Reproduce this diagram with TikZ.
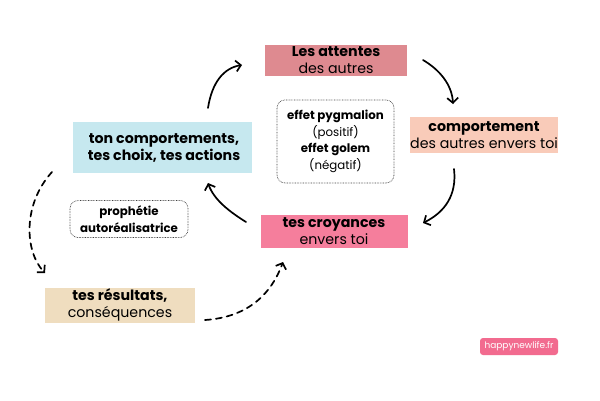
\documentclass[tikz,border=0pt]{standalone}
\usepackage{fontspec}
\setmainfont{Poppins}
\usetikzlibrary{arrows.meta}
\definecolor{rose}{HTML}{DE8A90}
\definecolor{peach}{HTML}{F9CBB9}
\definecolor{hotpink}{HTML}{F57E9C}
\definecolor{skyb}{HTML}{C6E8EF}
\definecolor{beige}{HTML}{EFDDBF}
\definecolor{logopink}{HTML}{F26B8F}
\tikzset{
  brush/.style={inner sep=0pt, align=center, font=\fontsize{14.2}{17}\selectfont},
  note/.style={draw=black!75, line width=0.7pt, dash pattern=on 0.7pt off 0.9pt, rounded corners=8pt, align=center, inner sep=0pt, font=\fontsize{11.8}{16.5}\selectfont},
  flow/.style={line width=1.7pt, line cap=round, -{Straight Barb[length=5pt,width=11pt,line width=1.7pt]}},
  dflow/.style={flow, dashed, dash pattern=on 6pt off 5pt}
}
\begin{document}
\begin{tikzpicture}[x=1pt,y=-1pt]
\useasboundingbox (0,0) rectangle (600,400);
\fill[white] (0,0) rectangle (600,400);
% brush boxes
\node[brush, fill=rose, minimum width=142pt, minimum height=31pt] (att) at (336,60) {\textbf{Les attentes}\\des autres};
\node[brush, fill=peach, minimum width=145pt, minimum height=36pt] (comp) at (484,135) {\textbf{comportement}\\des autres envers toi};
\node[brush, fill=hotpink, minimum width=147pt, minimum height=33pt] (croy) at (334,231) {\textbf{tes croyances}\\envers toi};
\node[brush, fill=skyb, minimum width=179pt, minimum height=51pt] (ton) at (162,147) {};
\node[brush, font=\fontsize{14.2}{17}\selectfont\bfseries] (tontext) at (164,147.5) {ton comportements,\\tes choix, tes actions};
\node[brush, fill=beige, minimum width=150pt, minimum height=35pt] (res) at (120,305) {\textbf{tes résultats,}\\conséquences};
% dotted notes
\node[note, minimum width=117pt, minimum height=83pt] (pyg) at (335.5,141.5) {\textbf{effet pygmalion}\\(positif)\\\textbf{effet golem}\\(négatif)};
\node[note, minimum width=118pt, minimum height=37pt] (pro) at (129,219) {\textbf{prophétie}\\\textbf{autoréalisatrice}};
% logo
\node[fill=logopink, rounded corners=3pt, minimum width=78pt, minimum height=17pt, inner sep=0pt, text=white, font=\fontsize{9}{10}\selectfont] (logo) at (519,346.5) {happynewlife.fr};
% connector coordinates
\coordinate (a1s) at (208,108); \coordinate (a1e) at (242,65);
\coordinate (a2s) at (423,60);  \coordinate (a2e) at (453,104);
\coordinate (a3s) at (454,169); \coordinate (a3e) at (423,223);
\coordinate (a4s) at (246,222); \coordinate (a4e) at (208,183);
\coordinate (d1s) at (52,172);  \coordinate (d1e) at (45,273);
\coordinate (d2s) at (205,320); \coordinate (d2e) at (283,262);
\draw[flow] (a1s) .. controls (212,82) and (224,68) .. (a1e);
\draw[flow] (a2s) .. controls (440,70) and (452,85) .. (a2e);
\draw[flow] (a3s) .. controls (457,195) and (445,212) .. (a3e);
\draw[flow] (a4s) .. controls (230,212) and (214,200) .. (a4e);
\draw[dflow] (d1s) .. controls (22,205) and (25,252) .. (d1e);
\draw[dflow] (d2s) .. controls (250,317) and (272,292) .. (d2e);
\end{tikzpicture}
\end{document}
